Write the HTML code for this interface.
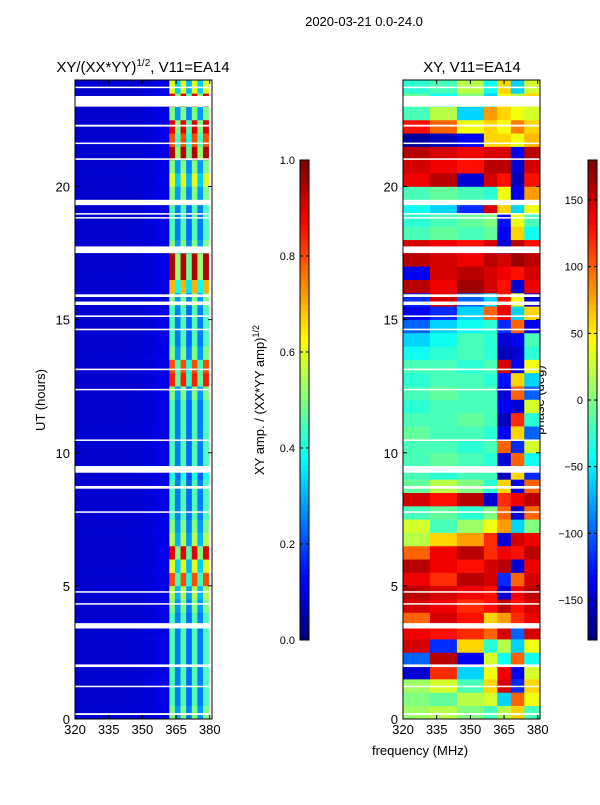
<!DOCTYPE html>
<html><head><meta charset="utf-8"><style>
body{margin:0;background:#fff;font-family:"Liberation Sans",sans-serif;}
svg text{font-family:"Liberation Sans",sans-serif;fill:#000;}
</style></head><body>
<svg id="fig" width="600" height="800" xmlns="http://www.w3.org/2000/svg">
<text x="364" y="26" font-size="13" text-anchor="middle">2020-03-21 0.0-24.0</text>
<text x="143" y="72" font-size="15" text-anchor="middle">XY/(XX*YY)<tspan dy="-6" font-size="10">1/2</tspan><tspan dy="6">, V11=EA14</tspan></text>
<text x="472" y="72" font-size="15" text-anchor="middle">XY, V11=EA14</text>
<text x="420" y="755" font-size="13" text-anchor="middle">frequency (MHz)</text>
<text transform="translate(45,400) rotate(-90)" font-size="13" text-anchor="middle">UT (hours)</text>
<text transform="translate(264,400) rotate(-90)" font-size="13" text-anchor="middle">XY amp. / (XX*YY amp)<tspan dy="-5" font-size="9">1/2</tspan></text>
<text transform="translate(544,400) rotate(-90)" font-size="13" text-anchor="middle">phase (deg)</text>
<g id="left"></g><g id="right"></g><g id="cb"></g>
</svg>
<script>
const hours=[0.25,0.75,1.25,1.75,2.25,2.75,3.25,3.75,4.25,4.75,5.25,5.75,6.25,6.75,7.25,7.75,8.25,8.75,9.25,9.75,10.25,10.75,11.25,11.75,12.25,12.75,13.25,13.75,14.25,14.75,15.25,15.75,16.25,16.75,17.25,17.75,18.25,18.75,19.25,19.75,20.25,20.75,21.25,21.75,22.25,22.75,23.25,23.75];
const ampRow=[0.5,0.45,0.45,0.45,0.45,0.45,0.45,0.45,0.5,0.55,0.8,0.6,0.9,0.55,0.5,0.45,0.45,0.45,0.4,0.45,0.45,0.45,0.45,0.45,0.5,0.85,0.8,0.5,0.45,0.45,0.45,0.5,0.7,0.95,0.95,0.5,0.45,0.45,0.45,0.5,0.6,0.5,0.95,0.8,0.9,0.5,0.9,0.6];
const freqEdges=[320,326,332,338,344,350,356,362,364.5,367,369.5,372,374.5,377,379.5,381];
const ampProfile=[0.08,0.08,0.08,0.08,0.08,0.09,0.1,1,0.55,1,0.5,1,0.55,1];
const phaseCols=[320,332,344,356,362,368,374,381];
const phase=[
[10,20,0,-20,20,60,-20],[0,-10,20,30,-60,100,40],[10,30,-20,60,150,-120,60],[-150,120,-60,40,140,-140,30],
[-100,160,-140,30,-40,100,-40],[150,-120,60,-30,20,-60,40],[140,130,120,100,150,-100,150],[100,150,130,60,80,120,140],
[150,140,120,130,160,130,150],[160,150,140,130,-150,140,160],[140,120,160,150,-120,100,150],[160,140,130,150,160,-150,140],
[100,140,160,120,140,130,160],[20,60,80,120,-150,150,140],[30,-20,10,40,80,-60,0],[-20,-10,-30,0,100,-150,100],
[150,130,160,-150,120,140,160],[-10,20,0,-30,60,-140,100],[-20,-30,-20,-20,-160,60,-120],[-20,-10,-20,-30,-150,100,-40],
[-20,-20,-30,-20,100,-120,30],[-10,-20,-20,-30,-140,60,-100],[-20,-20,-10,-20,-160,120,-30],[-30,-20,-20,-20,-140,-150,30],
[-20,-10,-20,-20,-150,100,-100],[-30,-20,-20,-30,-130,60,-60],[-20,-20,-30,-20,150,-140,40],[-40,-30,-20,-30,-160,-150,-30],
[-60,-40,-20,-30,-150,-140,-20],[-100,-60,-40,-30,-120,100,-140],[-140,-120,-60,100,140,-60,60],[-120,150,-100,-60,130,40,-150],
[160,140,170,150,130,-150,140],[-140,150,160,150,140,130,150],[160,150,140,160,150,170,160],[150,140,130,150,-150,160,130],
[-20,-10,-20,-10,-140,60,-40],[-30,-20,-10,0,-130,40,-20],[-40,-60,-120,150,60,-60,40],[-20,-10,-20,-30,40,-140,80],
[140,160,-150,150,130,-160,130],[150,140,130,160,160,-150,150],[160,150,140,150,150,-140,160],[-170,-160,-140,60,60,40,70],
[130,100,40,60,40,90,60],[-20,20,-60,80,60,40,30],[-10,-40,0,-60,40,20,60],[-30,-20,20,-40,60,-60,30]];
const gaps=[[23.0,23.4],[23.7,23.75],[22.25,22.32],[21.6,21.65],[21.0,21.06],[19.3,19.5],[18.95,19.0],[18.8,18.85],[17.5,17.75],[15.85,15.95],[15.55,15.68],[15.1,15.16],[14.6,14.66],[13.1,13.16],[12.35,12.4],[10.45,10.5],[9.25,9.5],[8.65,8.75],[7.75,7.8],[4.75,4.8],[4.3,4.35],[3.4,3.6],[1.95,2.05],[1.2,1.25],[0.15,0.22]];
const ampTicks=[0.0,0.2,0.4,0.6,0.8,1.0];
const phaseTicks=[-150,-100,-50,0,50,100,150];
const xTicks=[320,335,350,365,380];
const yTicks=[0,5,10,15,20];

const NS="http://www.w3.org/2000/svg";
function jet(v){v=Math.max(0,Math.min(1,v));
 const r=Math.max(0,Math.min(1,1.5-Math.abs(4*v-3))),g=Math.max(0,Math.min(1,1.5-Math.abs(4*v-2))),b=Math.max(0,Math.min(1,1.5-Math.abs(4*v-1)));
 return `rgb(${Math.round(r*255)},${Math.round(g*255)},${Math.round(b*255)})`;}
const yTop=80,yBot=719;
const yS=h=>yBot-(h/24)*(yBot-yTop);
function xS(x0,x1){return f=>x0+(f-320)/(381-320)*(x1-x0);}
function el(t,a,p){const e=document.createElementNS(NS,t);for(const k in a)e.setAttribute(k,a[k]);p.appendChild(e);return e;}

function panel(g,x0,x1,cellFn,nCols,colEdge,name){
 const xs=xS(x0,x1);
 hours.forEach((h,i)=>{for(let c=0;c<nCols;c++){
  const r=el('rect',{x:xs(colEdge[c]),y:yS(h+0.25),width:xs(colEdge[c+1])-xs(colEdge[c])+0.3,height:yS(h-0.25)-yS(h+0.25)+0.3,fill:cellFn(i,c)},g);
  
  
 }});
 gaps.forEach(gp=>{const r=el('rect',{x:x0,y:yS(gp[1]),width:x1-x0,height:Math.max(1.5,yS(gp[0])-yS(gp[1])),fill:'#fff'},g);
  
  });
 const fr=el('rect',{x:x0,y:yTop,width:x1-x0,height:yBot-yTop,fill:'none',stroke:'#000','stroke-width':1},g);
 
 
 xTicks.forEach(t=>{const x=xs(t);el('line',{x1:x,x2:x,y1:yBot,y2:yBot-4,stroke:'#000'},g);el('line',{x1:x,x2:x,y1:yTop,y2:yTop+4,stroke:'#000'},g);
  const tx=el('text',{x:x,y:yBot+15,'font-size':13,'text-anchor':'middle'},g);tx.textContent=t;
  
  });
 yTicks.forEach(t=>{const y=yS(t);el('line',{x1:x0,x2:x0+4,y1:y,y2:y,stroke:'#000'},g);el('line',{x1:x1,x2:x1-4,y1:y,y2:y,stroke:'#000'},g);
  const tx=el('text',{x:x0-5,y:y+5,'font-size':13,'text-anchor':'end'},g);tx.textContent=t;
  
  });
}
panel(document.getElementById('left'),75,212,(i,c)=>jet(c<7?ampProfile[c]:ampRow[i]*ampProfile[c]),14,freqEdges,'amp-heatmap');
panel(document.getElementById('right'),403,540,(i,c)=>jet((phase[i][c]+180)/360),7,phaseCols,'phase-heatmap');

function colorbar(x,ticks,lo,hi,fmt,name){
 const g=document.getElementById('cb');
 for(let k=0;k<96;k++){const v=k/95;el('rect',{x:x,y:640-(k+1)*5,width:9,height:5.3,fill:jet(v)},g);}
 const f=el('rect',{x:x,y:160,width:9,height:480,fill:'none',stroke:'#000'},g);
 
 
 ticks.forEach(t=>{const y=640-(t-lo)/(hi-lo)*480;el('line',{x1:x,x2:x+3,y1:y,y2:y,stroke:'#000'},g);el('line',{x1:x+9,x2:x+6,y1:y,y2:y,stroke:'#000'},g);
  const tx=el('text',{x:x-5,y:y+4,'font-size':11,'text-anchor':'end'},g);tx.textContent=fmt(t);
  
  });
}
colorbar(300,ampTicks,0,1,t=>t.toFixed(1),'amp-colorbar');
colorbar(588,phaseTicks,-180,180,t=>t<0?'\u2212'+(-t):String(t),'phase-colorbar');
</script>
</body></html>
